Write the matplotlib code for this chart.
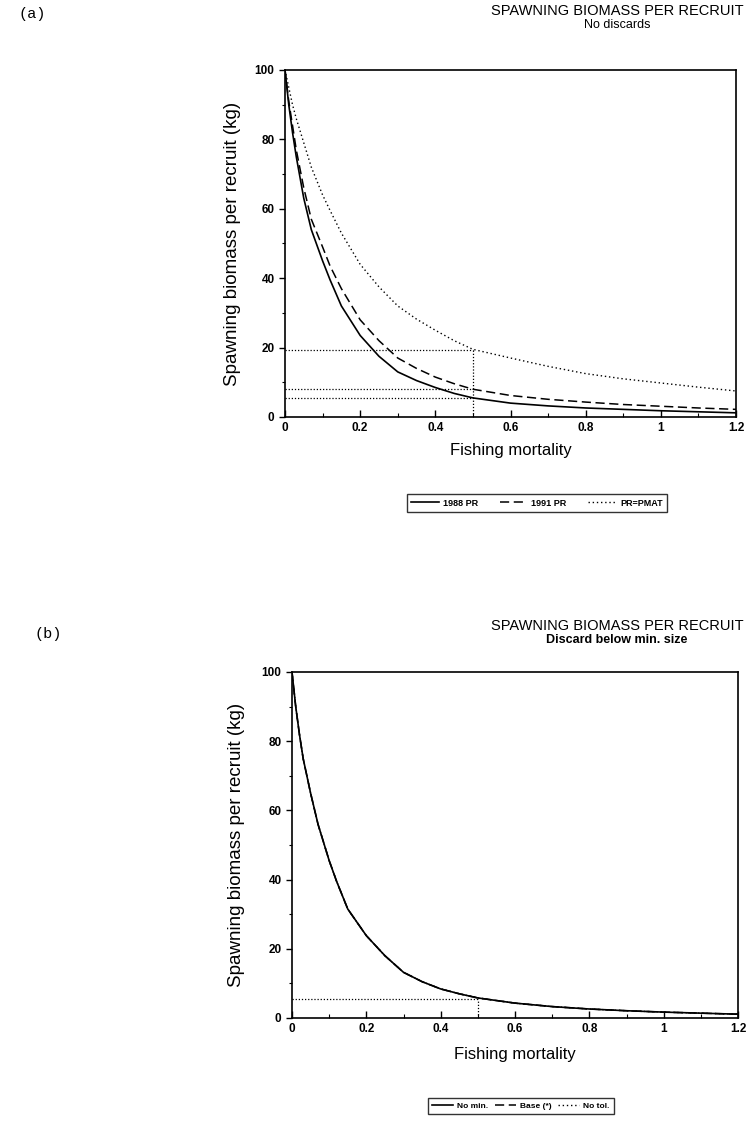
import numpy as np
import matplotlib
matplotlib.use('Agg')
import matplotlib.pyplot as plt
from matplotlib.ticker import MultipleLocator, FormatStrFormatter

# Fishing mortality grid and curves
F = [0, 0.01, 0.02, 0.03, 0.05, 0.07, 0.1, 0.12, 0.15, 0.2, 0.25, 0.3, 0.35,
     0.4, 0.45, 0.5, 0.6, 0.7, 0.8, 0.9, 1.0, 1.1, 1.2]

pr1988 = [100, 90, 82, 75, 63, 54, 45, 39.5, 32, 23.5, 17.5, 13, 10.5,
          8.5, 6.8, 5.5, 4, 3.2, 2.6, 2.2, 1.8, 1.5, 1.2]
pr1991 = [100, 91, 84, 77, 66, 57, 49, 43.5, 37, 28, 22, 17, 14,
          11.5, 9.6, 8, 6.2, 5.1, 4.3, 3.6, 3.1, 2.6, 2.2]
pr_pmat = [100, 95, 90, 86, 79, 72, 64, 59.5, 53, 44, 37.5, 32, 28.2,
           25, 22, 19.5, 17, 14.6, 12.5, 11, 9.8, 8.6, 7.5]

nomin = [100, 90, 82, 75, 65, 56, 45.5, 39.5, 31.5, 23.8, 18, 13.2, 10.5,
         8.4, 7, 5.8, 4.3, 3.3, 2.6, 2.1, 1.7, 1.4, 1.1]
base = nomin
notol = nomin

Fref = 0.5
refA = [19.3, 8.0, 5.5]   # horizontal markers at F=0.5, panel a
refB = [5.5]              # panel b

legA = ['1988 PR', '1991 PR', 'PR=PMAT']
legB = ['No min.', 'Base (*)', 'No tol.']

plt.rcParams['font.family'] = ['Liberation Sans', 'DejaVu Sans']

fig = plt.figure(figsize=(7.54, 11.26), dpi=100)

def setup(ax):
    ax.set_xlim(0, 1.2)
    ax.set_ylim(0, 100)
    ax.xaxis.set_major_locator(MultipleLocator(0.2))
    ax.xaxis.set_minor_locator(MultipleLocator(0.1))
    ax.yaxis.set_major_locator(MultipleLocator(20))
    ax.yaxis.set_minor_locator(MultipleLocator(10))
    ax.xaxis.set_major_formatter(FormatStrFormatter('%g'))
    ax.tick_params(axis='y', which='major', direction='out', length=4, width=1)
    ax.tick_params(axis='y', which='minor', direction='out', length=2.5, width=0.8)
    ax.tick_params(axis='x', which='major', direction='in', length=5, width=1)
    ax.tick_params(axis='x', which='minor', direction='in', length=3, width=0.8)
    for lab in ax.get_xticklabels() + ax.get_yticklabels():
        lab.set_fontsize(8.5)
        lab.set_fontweight('bold')
    for s in ax.spines.values():
        s.set_linewidth(1.2)
    ax.set_ylabel('Spawning biomass per recruit (kg)', fontsize=13.5)
    ax.set_xlabel('Fishing mortality', fontsize=12)

# ---- panel (a)
axA = fig.add_axes([285/754, 1 - 417/1126, 451/754, 347/1126])
setup(axA)
lA1, = axA.plot(F, pr1988, 'k-', lw=1.2)
lA2, = axA.plot(F, pr1991, 'k', ls=(0, (6, 3)), lw=1.1)
lA3, = axA.plot(F, pr_pmat, 'k', ls=(0, (1, 2)), lw=1.0)
for r in refA:
    axA.plot([0, Fref], [r, r], 'k', ls=(0, (1, 1.5)), lw=0.9)
axA.plot([Fref, Fref], [0, max(refA)], 'k', ls=(0, (1, 1.5)), lw=0.9)
axA.yaxis.set_label_coords(-0.098, 0.5)
axA.xaxis.set_label_coords(0.5, -0.075)

fig.text(617/754, 1 - 11/1126, 'SPAWNING BIOMASS PER RECRUIT', ha='center', va='center', fontsize=10.5)
fig.text(617/754, 1 - 25/1126, 'No discards', ha='center', va='center', fontsize=9)
fig.text(32/754, 1 - 14/1126, '(a)', ha='center', va='center', fontsize=11, family='Liberation Mono')

legendA = fig.legend([lA1, lA2, lA3], legA, loc='center', bbox_to_anchor=(537/754, 1 - 503/1126),
                     ncol=3, fontsize=6.5, handlelength=3.0, columnspacing=2.4, handletextpad=0.5,
                     frameon=True, fancybox=False, edgecolor='k', borderpad=0.5)
legendA.get_frame().set_linewidth(1.0)
for t in legendA.get_texts():
    t.set_fontweight('bold')

# ---- panel (b)
axB = fig.add_axes([292/754, 1 - 1018/1126, 446/754, 346/1126])
setup(axB)
lB1, = axB.plot(F, nomin, 'k-', lw=1.2)
lB2, = axB.plot(F, base, 'k', ls=(0, (6, 3)), lw=1.1)
lB3, = axB.plot(F, notol, 'k', ls=(0, (1, 2)), lw=1.0)
for r in refB:
    axB.plot([0, Fref], [r, r], 'k', ls=(0, (1, 1.5)), lw=0.9)
axB.plot([Fref, Fref], [0, max(refB)], 'k', ls=(0, (1, 1.5)), lw=0.9)
axB.yaxis.set_label_coords(-0.105, 0.5)
axB.xaxis.set_label_coords(0.5, -0.085)

fig.text(617/754, 1 - 626/1126, 'SPAWNING BIOMASS PER RECRUIT', ha='center', va='center', fontsize=10.5)
fig.text(617/754, 1 - 640/1126, 'Discard below min. size', ha='center', va='center', fontsize=9, fontweight='bold')
fig.text(48/754, 1 - 634/1126, '(b)', ha='center', va='center', fontsize=11, family='Liberation Mono')

legendB = fig.legend([lB1, lB2, lB3], legB, loc='center', bbox_to_anchor=(521/754, 1 - 1106/1126),
                     ncol=3, fontsize=6, handlelength=2.5, columnspacing=0.8, handletextpad=0.5,
                     frameon=True, fancybox=False, edgecolor='k', borderpad=0.5)
legendB.get_frame().set_linewidth(1.0)
for t in legendB.get_texts():
    t.set_fontweight('bold')

fig.savefig('out.png', dpi=100)
